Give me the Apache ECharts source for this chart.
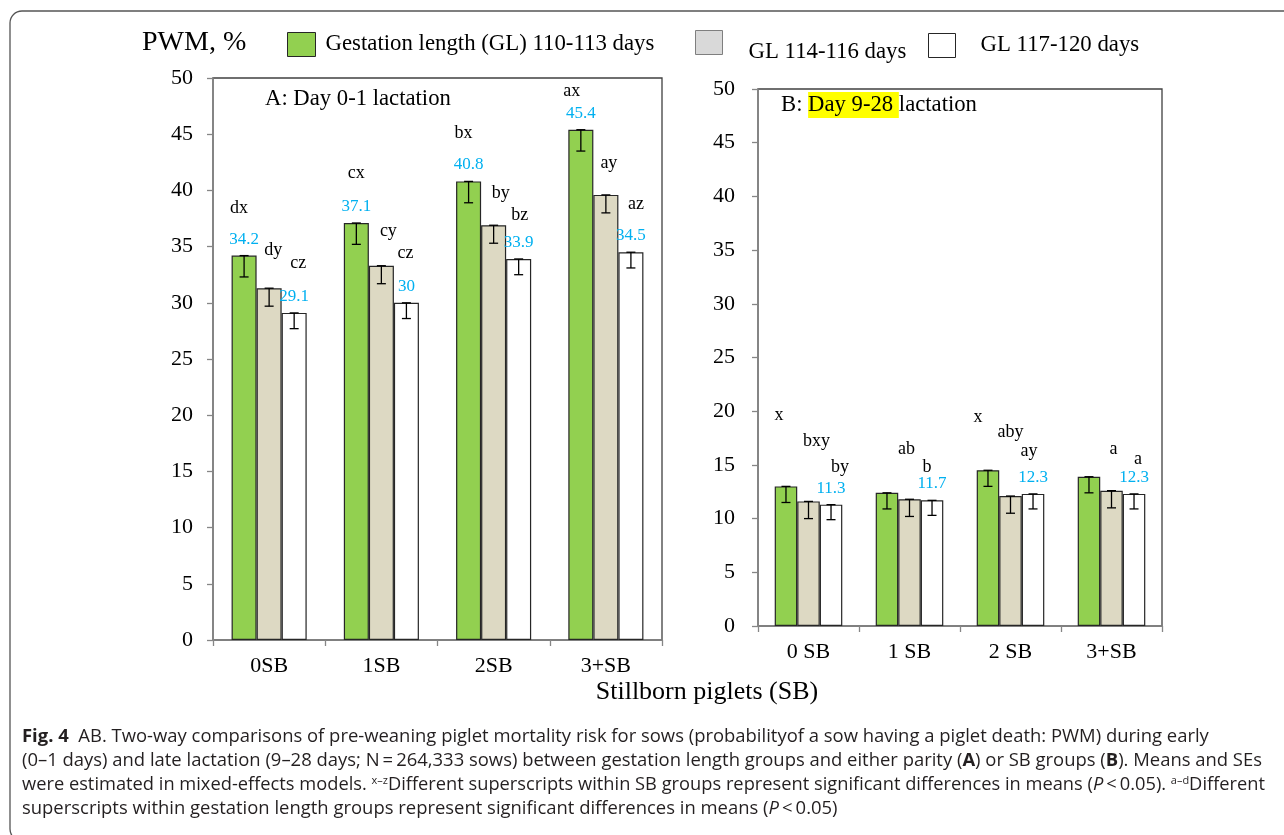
<!DOCTYPE html>
<html>
<head>
<meta charset="utf-8">
<script src="https://cdn.jsdelivr.net/npm/echarts@6/dist/echarts.min.js"></script>
<style>
  html, body { margin: 0; padding: 0; background: #fff; }
  #chart { width: 1284px; height: 835px; }
</style>
</head>
<body>
<div id="chart"></div>
<script>
// ---- data ----
const categoriesA = ['0SB', '1SB', '2SB', '3+SB'];
const categoriesB = ['0 SB', '1 SB', '2 SB', '3+SB'];
const groupNames = ['Gestation length (GL) 110-113 days', 'GL 114-116 days', 'GL 117-120 days'];
const yTicks = [0, 50, 5]; // min, max, interval (PWM, %)

// Panel A: day 0-1 lactation
const pwmA_GL110 = [34.2, 37.1, 40.8, 45.4];
const pwmA_GL114 = [31.3, 33.3, 36.9, 39.6];
const pwmA_GL117 = [29.1, 30.0, 33.9, 34.5];
const seA_GL110 = [1.9, 1.9, 1.9, 1.9];
const seA_GL114 = [1.6, 1.6, 1.6, 1.6];
const seA_GL117 = [1.4, 1.4, 1.4, 1.4];
const supA_GL110 = ['dx', 'cx', 'bx', 'ax'];
const supA_GL114 = ['dy', 'cy', 'by', 'ay'];
const supA_GL117 = ['cz', 'cz', 'bz', 'az'];

// Panel B: day 9-28 lactation
const pwmB_GL110 = [13.0, 12.4, 14.5, 13.9];
const pwmB_GL114 = [11.6, 11.8, 12.1, 12.6];
const pwmB_GL117 = [11.3, 11.7, 12.3, 12.3];
const seB_GL110 = [1.5, 1.5, 1.5, 1.5];
const seB_GL114 = [1.6, 1.6, 1.6, 1.6];
const seB_GL117 = [1.4, 1.4, 1.4, 1.4];
const supB_GL110 = ['x', '', 'x', ''];
const supB_GL114 = ['bxy', 'ab', 'aby', 'a'];
const supB_GL117 = ['by', 'b', 'ay', 'a'];

// ---- styling ----
const SERIF = "'Liberation Serif', 'Times New Roman', serif";
const SANS_NAME = 'Open Sans';
const SANS = "'Open Sans', 'Noto Sans', sans-serif";
const COLORS = ['#92d050', '#ddd9c3', '#ffffff'];
const BAR_FRAC = 0.223;
const VALUE_BLUE = '#00b0f0';
const OUTLINE = '#262626';
const AXIS_GREY = '#868686';
const CAPTION_INK = '#231f20';
const SUP_RATIO = 0.6;

// pixel nudges of the superscript letters relative to each bar top
const supOffA = [
  [[-5, -47], [0, -50], [-5, -48], [-9, -38]],
  [[4, -38], [7, -34], [7, -32], [3, -32]],
  [[4, -50], [-1, -50], [1, -44], [5, -48]]
];
const supOffB = [
  [[-7, -71], [0, 0], [-10, -53], [0, 0]],
  [[8, -60], [-3, -50], [0, -64], [2, -41]],
  [[9, -37], [-5, -33], [-4, -43], [4, -35]]
];

function barSeries(gridIdx, k, values, showValue) {
  return {
    type: 'bar',
    name: groupNames[k],
    xAxisIndex: gridIdx,
    yAxisIndex: gridIdx,
    data: values,
    barWidth: (BAR_FRAC * 100) + '%',
    barGap: '0%',
    itemStyle: { color: COLORS[k], borderColor: OUTLINE, borderWidth: 1.2 },
    label: {
      show: showValue,
      position: 'top',
      distance: 8,
      color: VALUE_BLUE,
      fontSize: 17,
      fontFamily: SERIF
    },
    emphasis: { disabled: true },
    z: 2
  };
}

// SE whiskers (drawn downward from the mean) plus the significance letters
function errSeries(gridIdx, k, values, ses, letters, offs) {
  const slot = k - 1;
  return {
    type: 'custom',
    xAxisIndex: gridIdx,
    yAxisIndex: gridIdx,
    data: values.map((v, i) => [i, v, ses[i]]),
    encode: { x: 0, y: 1 },
    silent: true,
    z: 5,
    renderItem: function (params, api) {
      const i = params.dataIndex;
      const c = api.value(0), v = api.value(1), se = api.value(2);
      const top = api.coord([c, v]);
      const bot = api.coord([c, v - se]);
      const band = api.size([1, 0])[0];
      const x = top[0] + slot * band * BAR_FRAC;
      const cap = 4.5;
      const ls = { stroke: '#000', lineWidth: 1.3 };
      const children = [
        { type: 'line', shape: { x1: x, y1: top[1], x2: x, y2: bot[1] }, style: ls },
        { type: 'line', shape: { x1: x - cap, y1: top[1], x2: x + cap, y2: top[1] }, style: ls },
        { type: 'line', shape: { x1: x - cap, y1: bot[1], x2: x + cap, y2: bot[1] }, style: ls }
      ];
      if (letters[i]) {
        children.push({
          type: 'text',
          x: x + offs[i][0],
          y: top[1] + offs[i][1],
          style: {
            text: letters[i], fill: '#000', fontSize: 18, fontFamily: SERIF,
            align: 'center', verticalAlign: 'middle'
          }
        });
      }
      return { type: 'group', children: children };
    }
  };
}

function yAxisCfg(gridIdx, margin) {
  return {
    type: 'value', gridIndex: gridIdx,
    min: yTicks[0], max: yTicks[1], interval: yTicks[2],
    splitLine: { show: false },
    axisLine: { show: true, lineStyle: { color: AXIS_GREY, width: 1.5 } },
    axisTick: { show: true, length: 6, lineStyle: { color: AXIS_GREY, width: 1.3 } },
    axisLabel: { color: '#000', fontSize: 22, fontFamily: SERIF, margin: margin }
  };
}
function xAxisCfg(gridIdx, cats, margin) {
  return {
    type: 'category', gridIndex: gridIdx, data: cats,
    axisLine: { show: true, lineStyle: { color: AXIS_GREY, width: 1.5 } },
    axisTick: { show: true, length: 6, lineStyle: { color: AXIS_GREY, width: 1.3 } },
    axisLabel: { color: '#000', fontSize: 22, fontFamily: SERIF, margin: margin }
  };
}

// one legend box per group so each entry can sit where the figure puts it
function legendCfg(k, left, top, w, h, gap, drop, iconStyle) {
  return {
    data: [{ name: groupNames[k], itemStyle: iconStyle }],
    left: left, top: top, padding: 0,
    icon: 'rect', itemWidth: w, itemHeight: h,
    selectedMode: false,
    formatter: function (name) { return '{t|' + name + '}'; },
    textStyle: {
      color: '#000', fontSize: 22.8, fontFamily: SERIF,
      rich: { t: { fontSize: 22.8, fontFamily: SERIF, color: '#000', padding: [drop, 0, 0, gap] } }
    }
  };
}

const captionLines = [
  '{b|Fig. 4}  AB. Two-way comparisons of pre-weaning piglet mortality risk for sows (probabilityof a sow having a piglet death: PWM) during early',
  '(0–1 days) and late lactation (9–28 days; N\u2009=\u2009264,333 sows) between gestation length groups and either parity ({b|A}) or SB groups ({b|B}). Means and SEs',
  'were estimated in mixed-effects models. {sup|x–z}Different superscripts within SB groups represent significant differences in means ({i|P}\u2009<\u20090.05). {sup|a–d}Different',
  'superscripts within gestation length groups represent significant differences in means ({i|P}\u2009<\u20090.05)'
];
const captionY = [737, 761, 785, 809];
const captionLeft = 22;
// right end of each caption line (null: leave at natural width)
const captionRight = [1210, 1262, 1265, null];

// width of a caption line with its rich-text runs, at the given size
const measureCtx = document.createElement('canvas').getContext('2d');
function measureLine(t, size) {
  const re = /\{(\w+)\|([^}]*)\}/g;
  let w = 0, last = 0, m;
  function run(str, style, sz) {
    measureCtx.font = style + ' ' + sz + 'px "' + SANS_NAME + '"';
    w += measureCtx.measureText(str).width;
  }
  while ((m = re.exec(t))) {
    run(t.slice(last, m.index), 'normal', size);
    if (m[1] === 'b') run(m[2], 'bold', size);
    else if (m[1] === 'i') run(m[2], 'italic', size);
    else run(m[2], 'normal', size * SUP_RATIO);
    last = re.lastIndex;
  }
  run(t.slice(last), 'normal', size);
  return w;
}
// size the caption font so the first line runs the full caption width
const capSize = Math.min(20, Math.max(14,
  100 * (captionRight[0] - captionLeft) / measureLine(captionLines[0], 100)));

function captionText(t, i) {
  const natural = measureLine(t, capSize);
  const want = captionRight[i] ? captionRight[i] - captionLeft : natural;
  const sx = natural > want ? want / natural : 1;
  return {
    type: 'text', x: captionLeft, y: captionY[i], scaleX: sx,
    style: {
      text: t, fontSize: capSize, fontFamily: SANS, fill: CAPTION_INK, verticalAlign: 'middle',
      rich: {
        b: { fontWeight: 'bold', fontSize: capSize, fontFamily: SANS, fill: CAPTION_INK },
        i: { fontStyle: 'italic', fontSize: capSize, fontFamily: SANS, fill: CAPTION_INK },
        sup: { fontSize: capSize * SUP_RATIO, fontFamily: SANS, fill: CAPTION_INK, verticalAlign: 'top', padding: [0, 0, 8, 0] }
      }
    }
  };
}

const chart = echarts.init(document.getElementById('chart'), null, { renderer: 'canvas' });

const option = {
  animation: false,
  backgroundColor: '#fff',
  grid: [
    { left: 213, top: 78, width: 449, height: 562, show: true, borderColor: '#404040', borderWidth: 1.3, backgroundColor: 'transparent' },
    { left: 758, top: 89, width: 404, height: 537, show: true, borderColor: '#404040', borderWidth: 1.3, backgroundColor: 'transparent' }
  ],
  xAxis: [xAxisCfg(0, categoriesA, 15), xAxisCfg(1, categoriesB, 15)],
  yAxis: [yAxisCfg(0, 20), yAxisCfg(1, 23)],
  legend: [
    legendCfg(0, 287, 32, 28, 24, 5, 0, { color: COLORS[0], borderColor: OUTLINE, borderWidth: 1 }),
    legendCfg(1, 695, 30, 27, 24, 21, 20, { color: '#d9d9d9', borderColor: '#7f7f7f', borderWidth: 1 }),
    legendCfg(2, 928, 33, 27, 24, 20, 0, { color: '#ffffff', borderColor: OUTLINE, borderWidth: 1 })
  ],
  series: [
    barSeries(0, 0, pwmA_GL110, true),
    barSeries(0, 1, pwmA_GL114, false),
    barSeries(0, 2, pwmA_GL117, true),
    barSeries(1, 0, pwmB_GL110, false),
    barSeries(1, 1, pwmB_GL114, false),
    barSeries(1, 2, pwmB_GL117, true),
    errSeries(0, 0, pwmA_GL110, seA_GL110, supA_GL110, supOffA[0]),
    errSeries(0, 1, pwmA_GL114, seA_GL114, supA_GL114, supOffA[1]),
    errSeries(0, 2, pwmA_GL117, seA_GL117, supA_GL117, supOffA[2]),
    errSeries(1, 0, pwmB_GL110, seB_GL110, supB_GL110, supOffB[0]),
    errSeries(1, 1, pwmB_GL114, seB_GL114, supB_GL114, supOffB[1]),
    errSeries(1, 2, pwmB_GL117, seB_GL117, supB_GL117, supOffB[2])
  ],
  graphic: [
    // outer figure frame
    { type: 'rect', shape: { x: 10, y: 11, width: 1300, height: 830, r: 12 },
      style: { fill: 'none', stroke: '#555', lineWidth: 1.3 }, z: -1, silent: true },
    // y-axis title
    { type: 'text', x: 142, y: 43, style: { text: 'PWM, %', fontSize: 28, fontFamily: SERIF, fill: '#000', verticalAlign: 'middle' } },
    // panel titles
    { type: 'text', x: 265, y: 99, style: { text: 'A: Day 0-1 lactation', fontSize: 22.7, fontFamily: SERIF, fill: '#000', verticalAlign: 'middle' }, z: 10 },
    { type: 'text', x: 781, y: 105, z: 10,
      style: {
        text: 'B: {hl|Day 9-28 }lactation', fontSize: 22.7, fontFamily: SERIF, fill: '#000', verticalAlign: 'middle',
        rich: { hl: { backgroundColor: '#ffff00', fontSize: 22.7, fontFamily: SERIF, height: 26, lineHeight: 26 } }
      } },
    // shared x-axis title
    { type: 'text', x: 707, y: 692, style: { text: 'Stillborn piglets (SB)', fontSize: 26, fontFamily: SERIF, fill: '#000', align: 'center', verticalAlign: 'middle' } }
  ].concat(captionLines.map(captionText))
};

chart.setOption(option);
</script>
</body>
</html>
